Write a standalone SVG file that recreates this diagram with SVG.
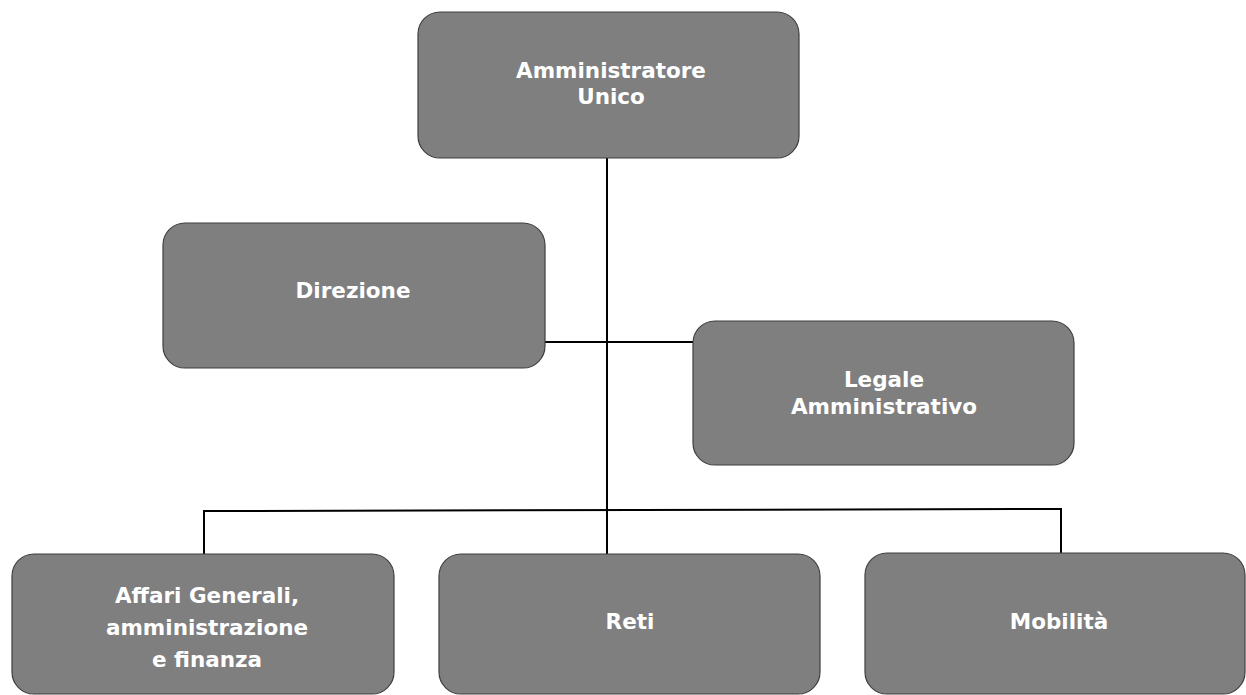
<svg xmlns="http://www.w3.org/2000/svg" width="1246" height="695" viewBox="0 0 1246 695">
<style>
.box{fill:#7f7f7f;stroke:#3f3f3f;stroke-width:1.2}
.lbl{font-family:"DejaVu Sans",Verdana,sans-serif;font-weight:bold;font-size:21.5px;fill:#ffffff;text-anchor:middle}
.conn{fill:none;stroke:#000000;stroke-width:2}
</style>
<rect width="1246" height="695" fill="#ffffff"/>
<g id="connectors">
<line class="conn" x1="607" y1="158" x2="607" y2="554"/>
<line class="conn" x1="545" y1="342" x2="693" y2="342"/>
<polyline class="conn" points="204,554 204,511 1061,509 1061,553"/>
</g>
<g id="amministratore">
<rect class="box" x="418" y="12" width="381" height="146" rx="22"/>
<text class="lbl" x="611" y="78">Amministratore</text>
<text class="lbl" x="611" y="104">Unico</text>
</g>
<g id="direzione">
<rect class="box" x="163" y="223" width="382" height="145" rx="22"/>
<text class="lbl" x="353" y="298">Direzione</text>
</g>
<g id="legale">
<rect class="box" x="693" y="321" width="381" height="144" rx="22"/>
<text class="lbl" x="884" y="387">Legale</text>
<text class="lbl" x="884" y="414">Amministrativo</text>
</g>
<g id="affari">
<rect class="box" x="12" y="554" width="382" height="140" rx="22"/>
<text class="lbl" x="207" y="603">Affari Generali,</text>
<text class="lbl" x="207" y="635">amministrazione</text>
<text class="lbl" x="207" y="667">e finanza</text>
</g>
<g id="reti">
<rect class="box" x="439" y="554" width="381" height="140" rx="22"/>
<text class="lbl" x="630" y="629">Reti</text>
</g>
<g id="mobilita">
<rect class="box" x="865" y="553" width="380" height="141" rx="22"/>
<text class="lbl" x="1059" y="629">Mobilità</text>
</g>
</svg>
